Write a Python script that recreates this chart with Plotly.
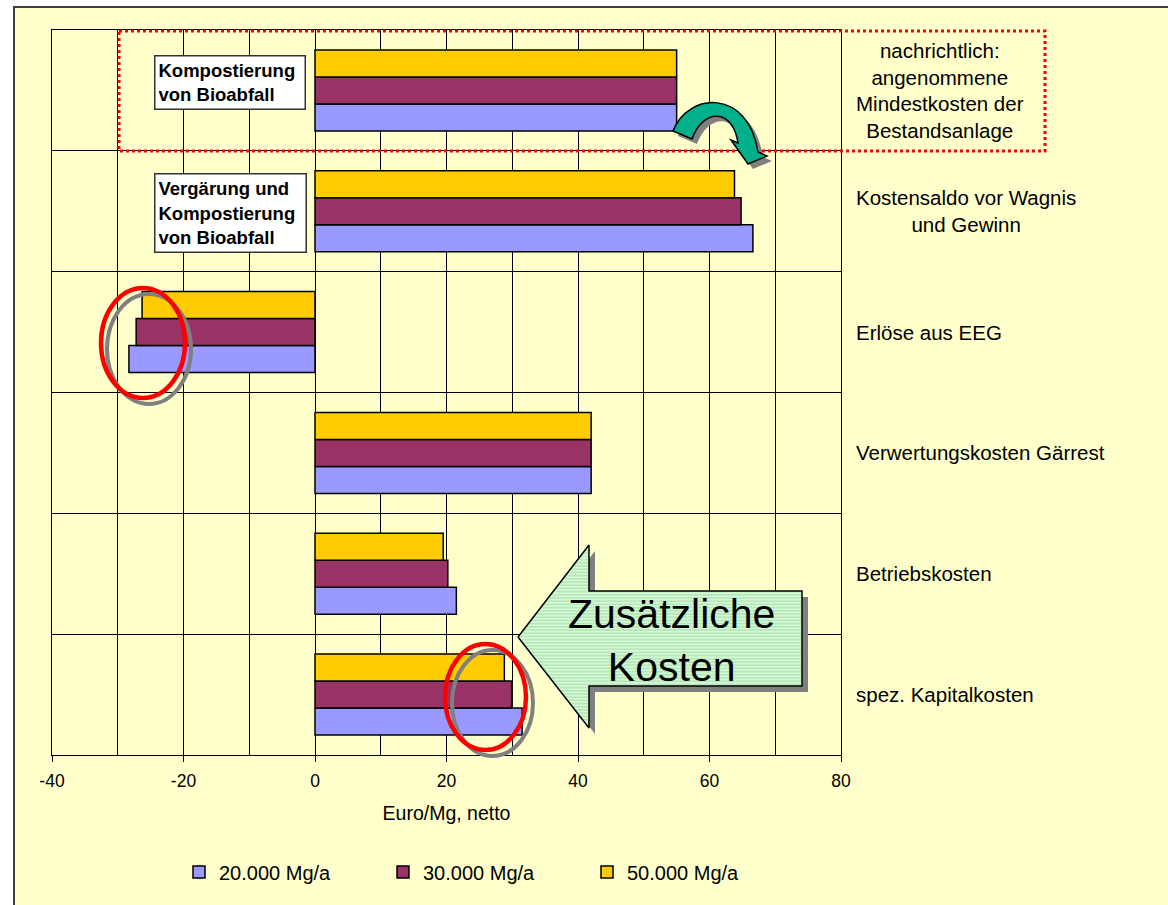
import plotly.graph_objects as go

# ---------------- data ----------------
categories = [
    "Kompostierung von Bioabfall",
    "Kostensaldo vor Wagnis und Gewinn",
    "Erlöse aus EEG",
    "Verwertungskosten Gärrest",
    "Betriebskosten",
    "spez. Kapitalkosten",
]
category_labels = [
    "nachrichtlich:<br>angenommene<br>Mindestkosten der<br>Bestandsanlage",
    "Kostensaldo vor Wagnis<br>und Gewinn",
    "Erlöse aus EEG",
    "Verwertungskosten Gärrest",
    "Betriebskosten",
    "spez. Kapitalkosten",
]
series_names = ["20.000 Mg/a", "30.000 Mg/a", "50.000 Mg/a"]
values_20 = [55.0, 66.6, -28.3, 42.0, 21.5, 31.5]
values_30 = [55.0, 64.8, -27.2, 42.0, 20.2, 29.9]
values_50 = [55.0, 63.8, -26.3, 42.0, 19.5, 28.8]
series_colors = ["#9999FF", "#993366", "#FFCC00"]
x_tick_values = [-40, -20, 0, 20, 40, 60, 80]
x_tick_labels = ["-40", "-20", "0", "20", "40", "60", "80"]
x_title = "Euro/Mg, netto"

FONT = "Liberation Sans, Arial, sans-serif"
W, H = 1168, 905
PL, PR, PT, PB = 52, 841, 30, 755  # plot area in px


def fx(px):
    return (px - PL) / (PR - PL)


def fy(py):
    return (PB - py) / (PB - PT)


fig = go.Figure()
for name, vals, col in zip(series_names, [values_20, values_30, values_50], series_colors):
    fig.add_trace(go.Bar(
        y=categories, x=vals, orientation="h", name=name,
        marker=dict(color=col, line=dict(color="#000000", width=1.5)),
    ))

# "Zusätzliche Kosten" block arrow (overlay axes in pixel units)
arrow_x = [518, 589, 589, 802, 802, 589, 589, 518]
arrow_y = [637, 545, 591, 591, 686, 686, 728, 637]
fig.add_trace(go.Scatter(
    x=[v + 6 for v in arrow_x], y=[v + 6 for v in arrow_y], xaxis="x2", yaxis="y2",
    mode="lines", fill="toself", fillcolor="#808080", line=dict(width=0, color="#808080"),
    showlegend=False, hoverinfo="skip"))
fig.add_trace(go.Scatter(
    x=arrow_x, y=arrow_y, xaxis="x2", yaxis="y2",
    mode="lines", fill="toself",
    fillpattern=dict(shape="-", bgcolor="#CCFFCC", fgcolor="#9A9AA8", size=3.2, solidity=0.3),
    line=dict(width=1.5, color="#000000"),
    showlegend=False, hoverinfo="skip"))

shapes = []
# outer chart background
shapes.append(dict(type="rect", xref="paper", yref="paper", layer="below",
                   x0=fx(14), x1=fx(1175), y0=fy(7), y1=fy(912),
                   fillcolor="#FFFFCC", line=dict(color="#404040", width=2)))
# red dotted frame
shapes.append(dict(type="rect", xref="paper", yref="paper",
                   x0=fx(119), x1=fx(1045), y0=fy(31), y1=fy(151),
                   line=dict(color="#FF0000", width=3, dash="dot")))
# ellipses with gray shadow
for (x0, y0, x1, y1, dx, dy) in [(101, 288, 185, 398, 6, 6), (445, 644, 526, 750, 7, 6)]:
    shapes.append(dict(type="circle", xref="paper", yref="paper",
                       x0=fx(x0 + dx), x1=fx(x1 + dx), y0=fy(y0 + dy), y1=fy(y1 + dy),
                       line=dict(color="#808080", width=4)))
    shapes.append(dict(type="circle", xref="paper", yref="paper",
                       x0=fx(x0), x1=fx(x1), y0=fy(y0), y1=fy(y1),
                       line=dict(color="#FF0000", width=4.5)))


def curved_arrow(dx=0, dy=0):
    pts = [
        ("M", [(673, 131)]),
        ("C", [(688, 92), (748, 88), (758, 152)]),
        ("L", [(767, 156)]),
        ("L", [(748, 164)]),
        ("L", [(731, 140)]),
        ("L", [(738, 143)]),
        ("C", [(733, 108), (703, 108), (692, 139)]),
    ]
    s = ""
    for cmd, ps in pts:
        s += cmd + " " + " ".join(f"{fx(x + dx):.5f},{fy(y + dy):.5f}" for x, y in ps) + " "
    return s + "Z"


shapes.append(dict(type="path", xref="paper", yref="paper", path=curved_arrow(5, 5),
                   fillcolor="#808080", line=dict(width=0)))
shapes.append(dict(type="path", xref="paper", yref="paper", path=curved_arrow(),
                   fillcolor="#00B08A", line=dict(color="#000000", width=1.5)))

annotations = []
# category labels to the right of the plot
for cat, lab in zip(categories, category_labels):
    annotations.append(dict(text=lab, xref="paper", yref="y", x=fx(854), y=cat,
                            xanchor="left", yanchor="middle", align="center", showarrow=False,
                            font=dict(family=FONT, size=20.5, color="#000000")))
# boxed bold labels
for txt, left, top, w, h in [("Kompostierung<br>von Bioabfall", 154, 55, 143, 46),
                             ("Vergärung und<br>Kompostierung<br>von Bioabfall", 154, 173, 144, 71)]:
    annotations.append(dict(text="<b>" + txt.replace("<br>", "</b><br><b>") + "</b>",
                            xref="paper", yref="paper", x=fx(left), y=fy(top),
                            xanchor="left", yanchor="top", align="left", valign="middle",
                            width=w, height=h, showarrow=False, bgcolor="#FFFFFF",
                            bordercolor="#333333", borderwidth=1.5, borderpad=3,
                            font=dict(family=FONT, size=18.5, color="#000000")))
# text in block arrow
annotations.append(dict(text="Zusätzliche<br>Kosten", xref="paper", yref="paper",
                        x=fx(671), y=fy(640), xanchor="center", yanchor="middle",
                        align="center", showarrow=False,
                        font=dict(family=FONT, size=41, color="#000000")))

fig.update_layout(
    width=W, height=H,
    margin=dict(l=PL, r=W - PR, t=PT, b=H - PB, pad=0),
    paper_bgcolor="#FFFFFF", plot_bgcolor="rgba(0,0,0,0)",
    barmode="group", bargap=0.33, bargroupgap=0,
    font=dict(family=FONT, color="#000000"),
    xaxis=dict(range=[-40, 80], tickmode="array", tickvals=x_tick_values, ticktext=x_tick_labels,
               ticks="outside", ticklen=6, tickcolor="#000000",
               showgrid=True, gridcolor="#000000", gridwidth=1,
               minor=dict(tickmode="linear", tick0=-40, dtick=10, showgrid=True,
                          gridcolor="#000000", gridwidth=1, ticks=""),
               zeroline=False, showline=True, linecolor="#000000", linewidth=1, mirror=True,
               tickfont=dict(family=FONT, size=17.5, color="#000000"),
               ticklabelstandoff=4,
               title=dict(text=x_title, font=dict(family=FONT, size=19.5, color="#000000"),
                          standoff=16)),
    yaxis=dict(categoryorder="array", categoryarray=categories[::-1], tickson="boundaries",
               showgrid=True, gridcolor="#000000", gridwidth=1, showticklabels=False,
               ticks="", showline=True, linecolor="#000000", linewidth=1, mirror=True),
    xaxis2=dict(overlaying="x", range=[PL, PR], visible=False, fixedrange=True),
    yaxis2=dict(overlaying="y", range=[PB, PT], visible=False, fixedrange=True),
    legend=dict(orientation="h", x=fx(179), y=fy(872), xanchor="left", yanchor="middle",
                entrywidth=159, entrywidthmode="pixels", bgcolor="rgba(0,0,0,0)",
                font=dict(family=FONT, size=20, color="#000000")),
    shapes=shapes, annotations=annotations,
)

fig.write_html("out.html", config={"displayModeBar": False},
               post_script="document.body.style.margin='0';document.body.style.overflow='hidden';")
